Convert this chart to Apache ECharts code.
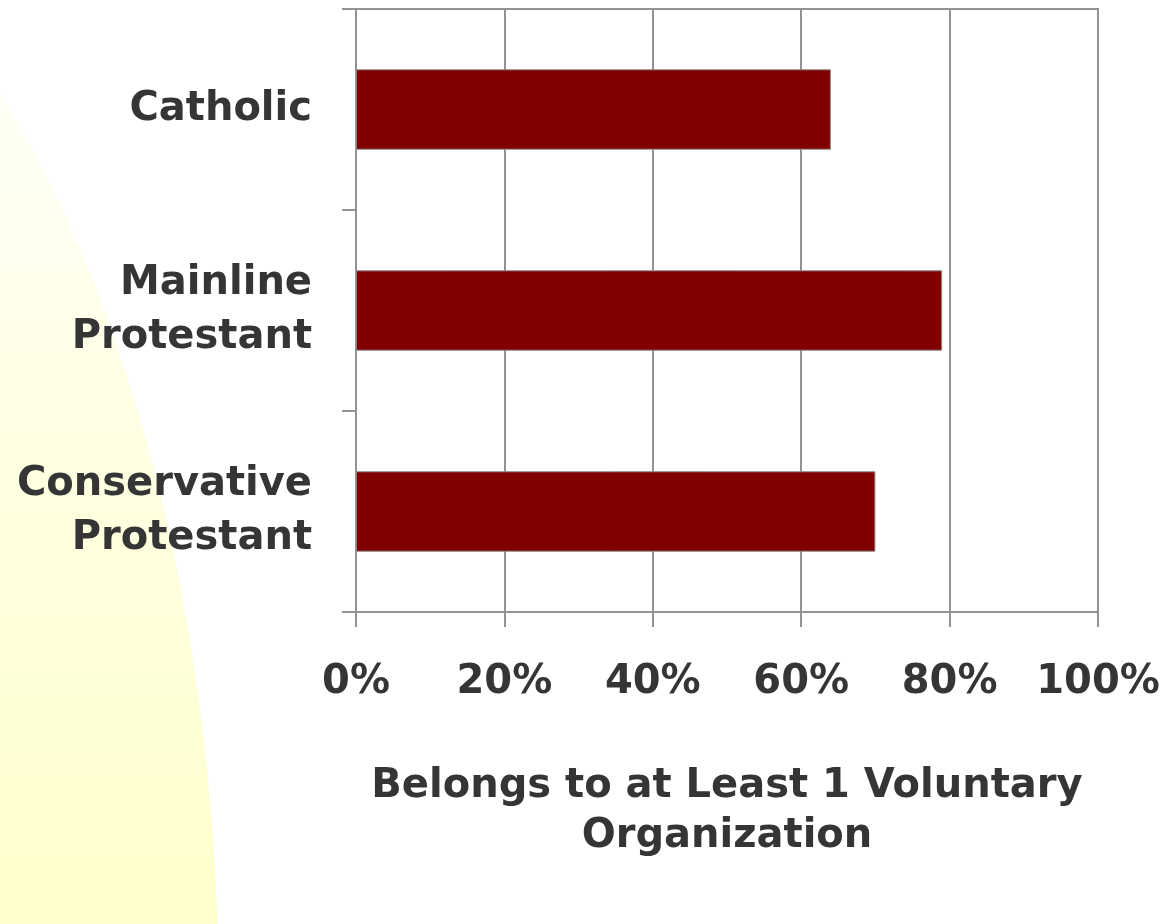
<!DOCTYPE html>
<html>
<head>
<meta charset="utf-8">
<script src="https://cdn.jsdelivr.net/npm/echarts@6/dist/echarts.min.js"></script>
<style>
  html, body { margin: 0; padding: 0; background: #fff; }
  #main { width: 1165px; height: 924px; }
</style>
</head>
<body>
<div id="main"></div>
<script>
// categories top to bottom
var categories = ['Catholic', 'Mainline\nProtestant', 'Conservative\nProtestant'];
// percent belonging to at least 1 voluntary organization
var belongs = [64, 79, 70];
var axisTitle = 'Belongs to at Least 1 Voluntary\nOrganization';

var lineGray = '#939393';
var textColor = '#353535';
var font = 'DejaVu Sans';

var myChart = echarts.init(document.getElementById('main'));
myChart.setOption({
    backgroundColor: '#ffffff',
    animation: false,
    // the pale yellow slide decoration on the left
    graphic: [{
        type: 'circle',
        z: -10,
        silent: true,
        x: -400,
        y: 1000,
        scaleX: 0.52,
        shape: { cx: 0, cy: 0, r: 1190 },
        style: {
            fill: new echarts.graphic.LinearGradient(0, 0, 0, 1, [
                { offset: 0, color: '#ffffff' },
                { offset: 0.1, color: '#fffff8' },
                { offset: 0.46, color: '#ffffcc' },
                { offset: 1, color: '#ffffcc' }
            ])
        }
    }],
    grid: {
        left: 356,
        right: 67,
        top: 9,
        bottom: 312,
        show: true,
        borderColor: lineGray,
        borderWidth: 2,
        backgroundColor: 'transparent'
    },
    xAxis: {
        type: 'value',
        min: 0,
        max: 100,
        interval: 20,
        name: axisTitle,
        nameLocation: 'middle',
        nameGap: 150,
        nameTextStyle: {
            fontFamily: font,
            fontWeight: 'bold',
            fontSize: 40,
            lineHeight: 50,
            color: textColor
        },
        axisLine: { show: true, lineStyle: { color: lineGray, width: 2 } },
        axisTick: { show: true, length: 15, lineStyle: { color: lineGray, width: 2 } },
        splitLine: { show: true, lineStyle: { color: lineGray, width: 2 } },
        axisLabel: {
            formatter: '{value}%',
            margin: 51,
            fontFamily: font,
            fontWeight: 'bold',
            fontSize: 40,
            lineHeight: 40,
            color: textColor
        }
    },
    yAxis: {
        type: 'category',
        inverse: true,
        data: categories,
        axisLine: { show: true, lineStyle: { color: lineGray, width: 2 } },
        axisTick: { show: true, length: 14, lineStyle: { color: lineGray, width: 2 } },
        splitLine: { show: false },
        axisLabel: {
            margin: 44,
            fontFamily: font,
            fontWeight: 'bold',
            fontSize: 40,
            lineHeight: 54,
            color: textColor,
            align: 'right'
        }
    },
    series: [{
        type: 'bar',
        data: belongs,
        barWidth: '40%',
        itemStyle: {
            color: '#800000',
            borderColor: '#8a8a8a',
            borderWidth: 1
        }
    }]
});
</script>
</body>
</html>
